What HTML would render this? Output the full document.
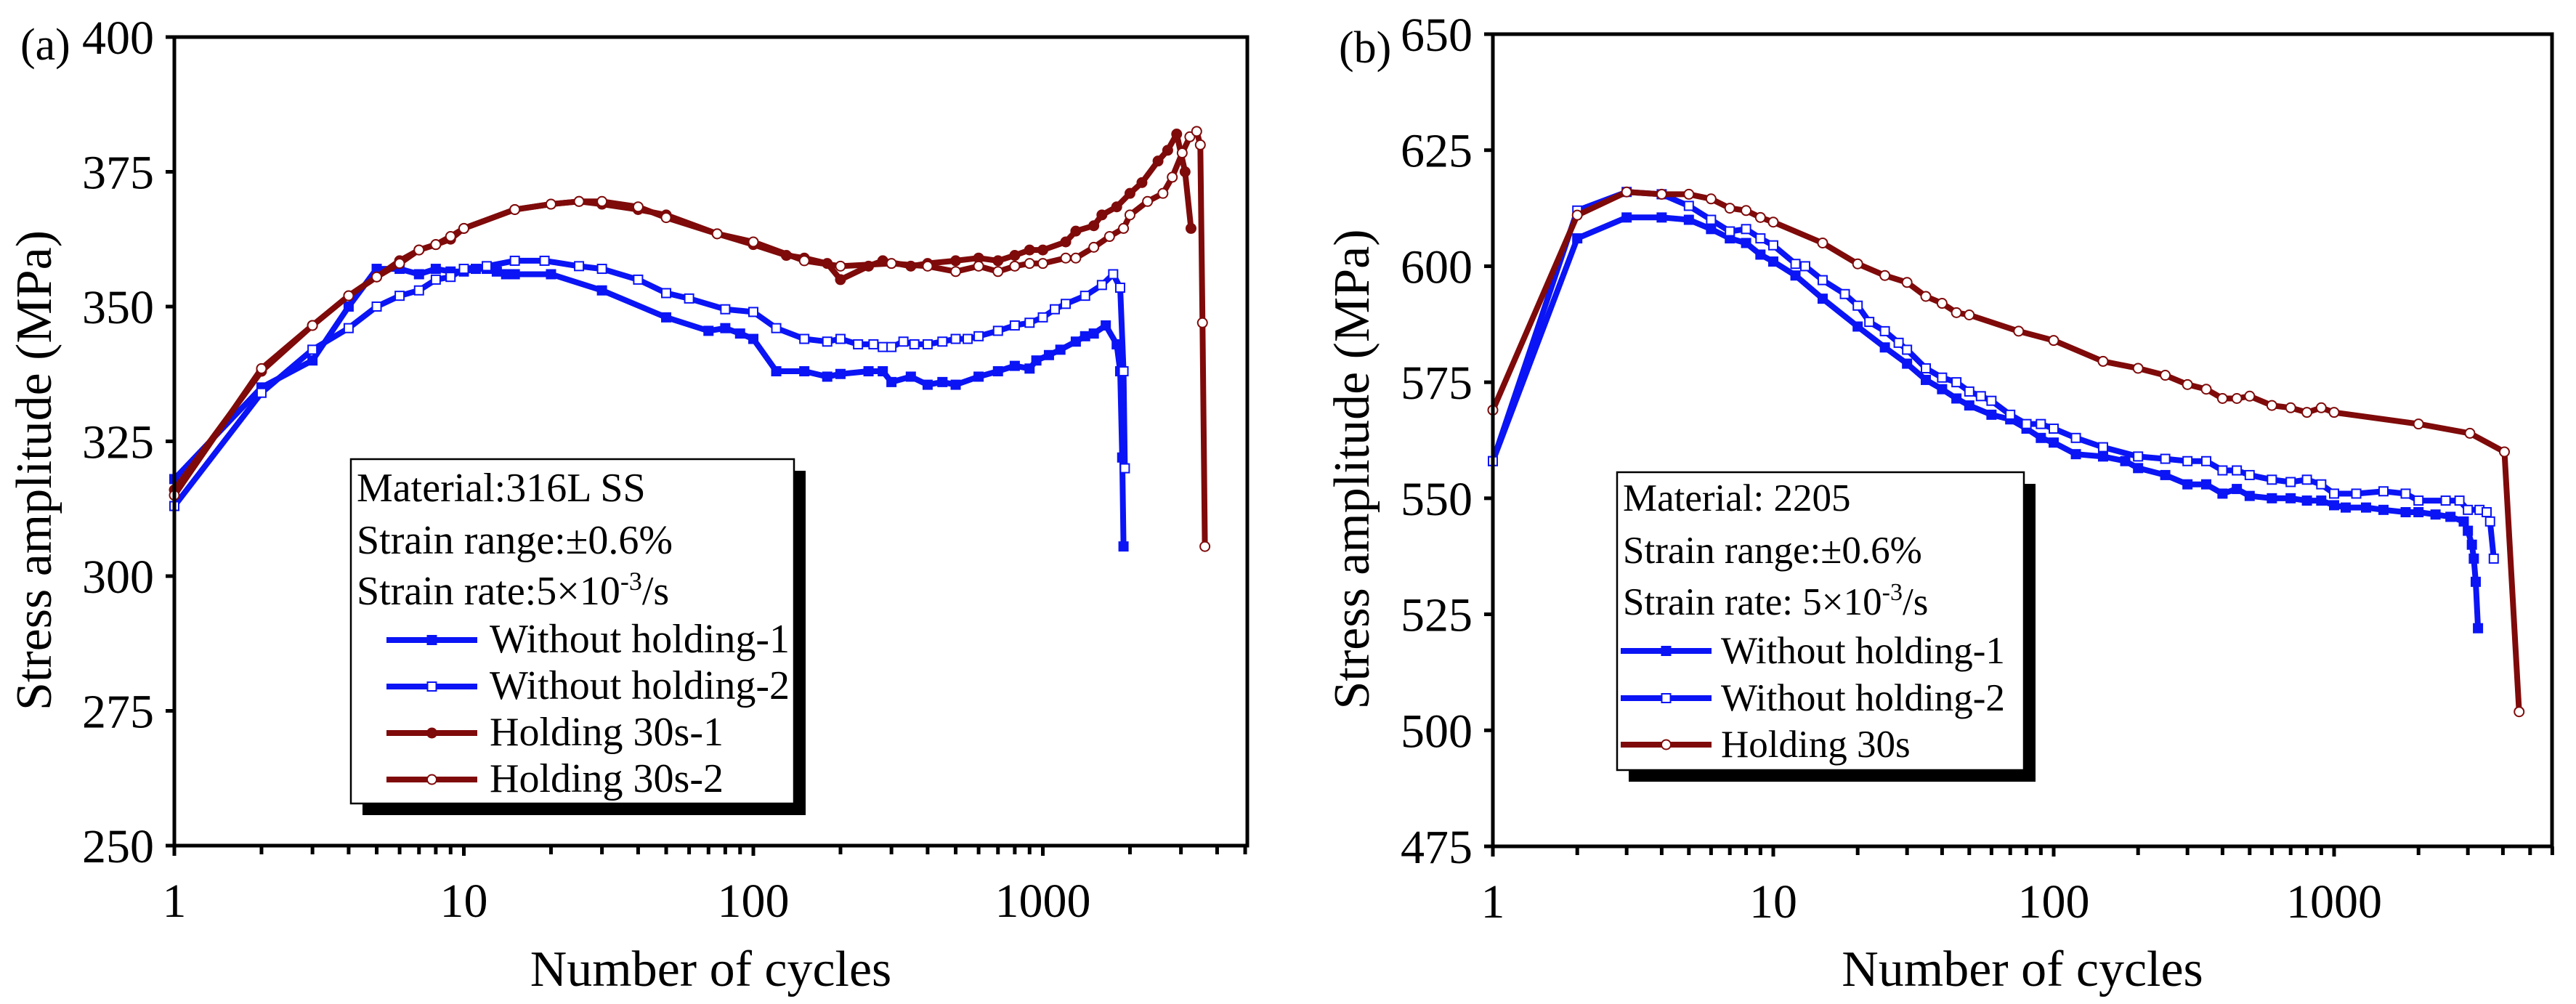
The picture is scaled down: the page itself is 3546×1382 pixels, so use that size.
<!DOCTYPE html>
<html><head><meta charset="utf-8"><style>
html,body{margin:0;padding:0;background:#fff;}
svg{display:block;font-family:"Liberation Serif","Times New Roman",serif;}
</style></head><body>
<svg id="fig" width="3546" height="1382" viewBox="0 0 3546 1382" xmlns="http://www.w3.org/2000/svg"></svg>
<script>
// ---------- Panel (a) data ----------
const aW1x=[1,2,3,4,5,6,7,8,9,10,11,12,13,14,15,20,30,50,70,80,90,100,120,150,180,200,250,280,300,350,400,450,500,600,700,800,900,950,1050,1150,1300,1400,1500,1650,1800,1850,1880,1900];
const aW1y=[318,335,340,350,357,357,356,357,356.5,356.5,357,357,356.5,356,356,356,353,348,345.5,346,345,344,338,338,337,337.5,338,338,336,337,335.5,336,335.5,337,338,339,338.5,340,341,342,343.5,344.5,345,346.5,343,338,322,305.5];
const aW2x=[1,2,3,4,5,6,7,8,9,10,12,15,19,25,30,40,50,60,80,100,120,150,180,200,230,260,280,300,330,360,400,450,500,550,600,700,800,900,1000,1100,1200,1400,1600,1750,1850,1900,1920];
const aW2y=[313,334,342,346,350,352,353,355,355.5,357,357.5,358.5,358.5,357.5,357,355,352.5,351.5,349.5,349,346,344,343.5,344,343,343,342.5,342.5,343.5,343,343,343.5,344,344,344.5,345.5,346.5,347,348,349.5,350.5,352,354,356,353.5,338,320];
const aH1x=[1,2,3,4,5,6,7,8,9,10,15,20,25,30,40,50,75,100,130,150,180,200,250,280,350,400,500,600,700,800,900,1000,1200,1300,1500,1600,1800,2000,2200,2500,2700,2900,3100,3250];
const aH1y=[316,338,346.5,352,355.5,358.5,360.5,361.5,362.5,364.5,368,369,369.5,369,368,367,363.5,361.5,359.5,359,358,355,357.5,358.5,357.5,358,358.5,359,358.5,359.5,360.5,360.5,362,364,365,367,368.5,371,373,377,379,382,375,364.5];
const aH2x=[1,2,3,4,5,6,7,8,9,10,15,20,25,30,40,50,75,100,150,200,300,400,500,600,700,800,900,1000,1200,1300,1500,1700,1900,2000,2300,2600,2800,3030,3220,3400,3500,3560,3630];
const aH2y=[315,338.5,346.5,352,355.5,358,360.5,361.5,363,364.5,368,369,369.5,369.5,368.5,366.5,363.5,362,358.5,357.5,358,357.5,356.5,357.5,356.5,357.5,358,358,359,359,361,363,364.5,367,369.5,371,374,378.5,381.5,382.5,380,347,305.5];
const aYTicks=[250,275,300,325,350,375,400];
const aXTicks=[1,10,100,1000];
// ---------- Panel (b) data ----------
const bW1x=[1,2,3,4,5,6,7,8,9,10,12,15,20,25,30,35,40,45,50,60,70,80,90,100,120,150,180,200,250,300,350,400,450,500,600,700,800,900,1000,1100,1300,1500,1800,2000,2300,2600,2900,3000,3100,3150,3200,3260];
const bW1y=[558,606,610.5,610.5,610,608,606,605,602.5,601,598,593,587,582.5,579,575.5,573.5,571.5,570,568,567,565,563,562,559.5,559,558,556.5,555,553,553,551,552,550.5,550,550,549.5,549.5,548.5,548,548,547.5,547,547,546.5,546,545,543,540,537,532,522];
const bW2x=[1,2,3,4,5,6,7,8,9,10,12,13,15,18,20,22,25,28,30,35,40,45,50,55,60,70,80,90,100,120,150,200,250,300,350,400,450,500,600,700,800,900,1000,1200,1500,1800,2000,2500,2800,3000,3300,3500,3600,3710];
const bW2y=[558,612,616,615.5,613,610,607.5,608,606,604.5,600.5,600,597,594,591.5,588,586,583.5,582,578,576,575,573,572,571,568,566,566,565,563,561,559,558.5,558,558,556,556,555,554,553.5,554,553,551,551,551.5,551,549.5,549.5,549.5,547.5,547.5,547,545,537];
const bHx=[1,2,3,4,5,6,7,8,9,10,15,20,25,30,35,40,45,50,75,100,150,200,250,300,350,400,450,500,600,700,800,900,1000,2000,3050,4050,4570];
const bHy=[569,611,616,615.5,615.5,614.5,612.5,612,610.5,609.5,605,600.5,598,596.5,593.5,592,590,589.5,586,584,579.5,578,576.5,574.5,573.5,571.5,571.5,572,570,569.5,568.5,569.5,568.5,566,564,560,504];
const bYTicks=[475,500,525,550,575,600,625,650];
const bXTicks=[1,10,100,1000];

const NS="http://www.w3.org/2000/svg";
const svg=document.getElementById('fig');
function mk(tag,attrs,parent){const e=document.createElementNS(NS,tag);for(const k in attrs)e.setAttribute(k,attrs[k]);(parent||svg).appendChild(e);return e;}

function panel(p){
  const g=mk('g',{});
  
  
  const xs=v=>p.L+Math.log10(v)*p.dec;
  const ys=v=>p.B-(v-p.ymin)/(p.ymax-p.ymin)*(p.B-p.T);
  aTicks(g,p,xs,ys);
  p.series.forEach(s=>{
    const sg=mk('g',{},g);
    
    
    const pts=s.x.map((v,i)=>xs(v).toFixed(1)+','+ys(s.y[i]).toFixed(1)).join(' ');
    const pl=mk('polyline',{points:pts,fill:'none',stroke:s.color,'stroke-width':8,'stroke-linejoin':'round'},sg);
    
    
    s.x.forEach((v,i)=>{
      const m=marker(sg,s,xs(v),ys(s.y[i]));
      
      
    });
  });
  const fr=mk('rect',{x:p.L,y:p.T,width:p.R-p.L,height:p.B-p.T,fill:'none',stroke:'#000','stroke-width':5},g);
  
  
  const lg=mk('g',{},g);
  
  
  mk('rect',{x:p.lg.x+16,y:p.lg.y+16,width:p.lg.w,height:p.lg.h,fill:'#000'},lg);
  mk('rect',{x:p.lg.x,y:p.lg.y,width:p.lg.w,height:p.lg.h,fill:'#fff',stroke:'#000','stroke-width':2.5},lg);
  p.lg.info.forEach((t,i)=>{
    const tx=mk('text',{x:p.lg.x+8,y:p.lg.base[i],'font-size':p.lg.fs},lg);
    tx.innerHTML=t;
    
    
  });
  p.series.forEach((s,i)=>{
    const by=p.lg.base[p.lg.info.length+i];
    const ly=by-17;
    const en=mk('g',{},lg);
    
    
    mk('line',{x1:p.lg.lx1,x2:p.lg.lx2,y1:ly,y2:ly,stroke:s.color,'stroke-width':8},en);
    marker(en,s,(p.lg.lx1+p.lg.lx2)/2,ly);
    const tx=mk('text',{x:p.lg.tx,y:by,'font-size':p.lg.fs},en);
    tx.textContent=s.label;
  });
  const pl=mk('text',{x:p.plx,y:p.ply,'font-size':62},g);
  pl.textContent=p.panelLabel;
  
  
  const xt=mk('text',{x:(p.L+p.R)/2,y:1357,'font-size':70,'text-anchor':'middle'},g);
  xt.textContent='Number of cycles';
  
  
  const yt=mk('text',{x:0,y:0,'font-size':70,'text-anchor':'middle',transform:`translate(${p.ytx},${(p.T+p.B)/2+40}) rotate(-90)`},g);
  yt.textContent='Stress amplitude (MPa)';
  
  
}
function marker(parent,s,x,y){
  if(s.m==='sq') return mk('rect',{x:x-6,y:y-6,width:12,height:12,fill:s.fill,stroke:s.color,'stroke-width':2},parent);
  return mk('circle',{cx:x,cy:y,r:6.5,fill:s.fill,stroke:s.color,'stroke-width':2},parent);
}
function aTicks(g,p,xs,ys){
  p.yt.forEach(v=>{
    const y=ys(v);
    mk('line',{x1:p.L-12,x2:p.L,y1:y,y2:y,stroke:'#000','stroke-width':5},g);
    const t=mk('text',{x:p.L-28,y:y+23,'font-size':66,'text-anchor':'end'},g);
    t.textContent=v;
    
    
  });
  for(let d=1;d<=p.xmax;d*=10){
    for(let k=1;k<10;k++){
      const v=d*k; if(v>p.xmax) break;
      const x=xs(v);
      mk('line',{x1:x,x2:x,y1:p.B,y2:p.B+(k===1?14:12),stroke:'#000','stroke-width':5},g);
    }
  }
  p.xt.forEach(v=>{
    const t=mk('text',{x:xs(v),y:p.B+98,'font-size':66,'text-anchor':'middle'},g);
    t.textContent=v;
    
    
  });
}
const BLUE='#0a14f5', RED='#7f0a0a';
panel({name:'panel-a',L:240,R:1717,T:51,B:1164,dec:398.5,ymin:250,ymax:400,xmax:5000,yt:aYTicks,xt:aXTicks,
  panelLabel:'(a)',plx:28,ply:82,ytx:70,
  series:[
    {name:'without-holding-1',label:'Without holding-1',x:aW1x,y:aW1y,color:BLUE,m:'sq',fill:BLUE},
    {name:'without-holding-2',label:'Without holding-2',x:aW2x,y:aW2y,color:BLUE,m:'sq',fill:'#fff'},
    {name:'holding-30s-1',label:'Holding 30s-1',x:aH1x,y:aH1y,color:RED,m:'ci',fill:RED},
    {name:'holding-30s-2',label:'Holding 30s-2',x:aH2x,y:aH2y,color:RED,m:'ci',fill:'#fff'}],
  lg:{fs:56,x:483,y:632,w:610,h:474,lx1:532,lx2:657,tx:674,base:[690,762,832,898,962,1026,1090],
    info:['Material:316L SS','Strain range:±0.6%','Strain rate:5×10<tspan dy="-20" font-size="36">-3</tspan><tspan dy="20">/s</tspan>']}
});
panel({name:'panel-b',L:2055,R:3513,T:47,B:1165,dec:386,ymin:475,ymax:650,xmax:6000,yt:bYTicks,xt:bXTicks,
  panelLabel:'(b)',plx:1843,ply:86,ytx:1884,
  series:[
    {name:'without-holding-1',label:'Without holding-1',x:bW1x,y:bW1y,color:BLUE,m:'sq',fill:BLUE},
    {name:'without-holding-2',label:'Without holding-2',x:bW2x,y:bW2y,color:BLUE,m:'sq',fill:'#fff'},
    {name:'holding-30s',label:'Holding 30s',x:bHx,y:bHy,color:RED,m:'ci',fill:'#fff'}],
  lg:{fs:53,x:2226,y:650,w:560,h:410,lx1:2231,lx2:2356,tx:2369,base:[703,775,846,913,978,1042],
    info:['Material: 2205','Strain range:±0.6%','Strain rate: 5×10<tspan dy="-20" font-size="34">-3</tspan><tspan dy="20">/s</tspan>']}
});
</script>
</body></html>
